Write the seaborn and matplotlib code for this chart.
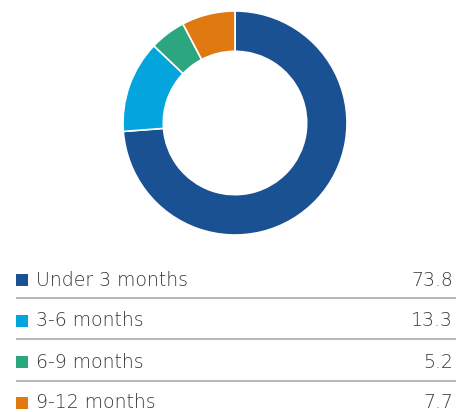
import numpy as np
import pandas as pd
import seaborn as sb
import matplotlib.pyplot as plt

# data
categories = ["Under 3 months", "3-6 months", "6-9 months", "9-12 months"]
values = [73.8, 13.3, 5.2, 7.7]
value_labels = ["73.8", "13.3", "5.2", "7.7"]
colors = ["#1a5192", "#04a4dc", "#2ca67f", "#e07912"]

sb.set_theme(style="white")
plt.rcParams['font.family'] = ['DejaVu Sans']

W, H = 457, 412
fi = plt.figure(figsize=(W / 100, H / 100), dpi=100)

# donut
cx, cy, r = 235, 123, 112
ax = fi.add_axes([(cx - r) / W, 1 - (cy + r) / H, 2 * r / W, 2 * r / H])
ax.pie(values, colors=colors, startangle=90, counterclock=False,
       radius=1.0,
       wedgeprops=dict(width=0.36, edgecolor='white', linewidth=1.2))
ax.set_xlim(-1, 1)
ax.set_ylim(-1, 1)
ax.set_aspect('equal')
ax.axis('off')

# legend table, pixel coordinates
lg = fi.add_axes([0, 0, 1, 1], zorder=-1)
lg.set_xlim(0, W)
lg.set_ylim(H, 0)
lg.axis('off')

row_y = [280, 321, 362, 403]
line_y = [297.5, 339, 380.5]

df = pd.DataFrame({"cat": categories, "x": 22, "y": row_y})
sb.scatterplot(data=df, x="x", y="y", hue="cat", palette=colors,
               marker='s', s=70, linewidth=0, legend=False, ax=lg)

for cat, lab, y in zip(categories, value_labels, row_y):
    lg.text(36, y, cat, fontsize=13.6, fontweight=200, color='#383838',
            va='center', ha='left')
    lg.text(453, y, lab, fontsize=13.6, fontweight=200, color='#383838',
            va='center', ha='right')

lg.hlines(line_y, 16, 456, color='#aaaaaa', linewidth=1.2)
lg.set_xlim(0, W)
lg.set_ylim(H, 0)

fi.savefig("out.png", dpi=100)
